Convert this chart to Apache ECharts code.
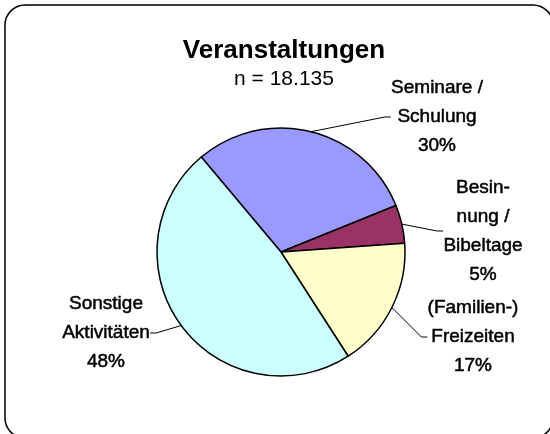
<!DOCTYPE html>
<html>
<head>
<meta charset="utf-8">
<script src="https://cdn.jsdelivr.net/npm/echarts@6/dist/echarts.min.js"></script>
<style>
  html, body { margin: 0; padding: 0; background: #fff; }
  #chart { width: 550px; height: 434px; }
</style>
</head>
<body>
<div id="chart"></div>
<script>
// categories and shares (%), clockwise from the upper left
const categories = ['Seminare /\nSchulung', 'Besin-\nnung /\nBibeltage', '(Familien-)\nFreizeiten', 'Sonstige\nAktivitäten']
const shares = [30, 5, 17, 48]
const colors = ['#9999FF', '#993366', '#FFFFCC', '#CCFFFF']
const titleText = 'Veranstaltungen'
const subText = 'n = 18.135'

// where each label block sits (centre of the text)
const labelSpots = [
  { x: 437, y: 117 },
  { x: 483, y: 231 },
  { x: 473, y: 337 },
  { x: 106, y: 333 }
]

const chart = echarts.init(document.getElementById('chart'))

chart.setOption({
  backgroundColor: '#fff',
  animation: false,
  graphic: [
    {
      type: 'rect',
      shape: { x: 5, y: 5, width: 548, height: 433, r: 20 },
      style: { fill: 'none', stroke: '#000', lineWidth: 1.5 },
      silent: true
    }
  ],
  title: {
    text: titleText,
    subtext: subText,
    left: 279,
    textAlign: 'center',
    top: 33,
    itemGap: 5,
    textStyle: { fontFamily: 'Liberation Sans', fontSize: 26, fontWeight: 'bold', color: '#000' },
    subtextStyle: { fontFamily: 'Liberation Sans', fontSize: 21, color: '#000' }
  },
  series: [
    {
      type: 'pie',
      center: [281, 252],
      radius: 124,
      startAngle: 130,
      clockwise: true,
      avoidLabelOverlap: false,
      data: categories.map((name, i) => ({
        name,
        value: shares[i],
        itemStyle: { color: colors[i] }
      })),
      itemStyle: { borderColor: '#000', borderWidth: 1.5 },
      label: {
        show: true,
        position: 'outside',
        formatter: p => p.name + '\n' + p.value + '%',
        fontFamily: 'Liberation Sans',
        fontSize: 19,
        lineHeight: 29,
        color: '#000',
        textBorderColor: '#000',
        textBorderWidth: 0.5,
        align: 'center'
      },
      labelLine: {
        show: true,
        length: 10,
        length2: 6,
        lineStyle: { color: '#000', width: 1 }
      },
      labelLayout: params => {
        const s = labelSpots[params.dataIndex]
        return { x: s.x, y: s.y, align: 'center', verticalAlign: 'middle' }
      },
      emphasis: { disabled: true }
    }
  ]
})
</script>
</body>
</html>
